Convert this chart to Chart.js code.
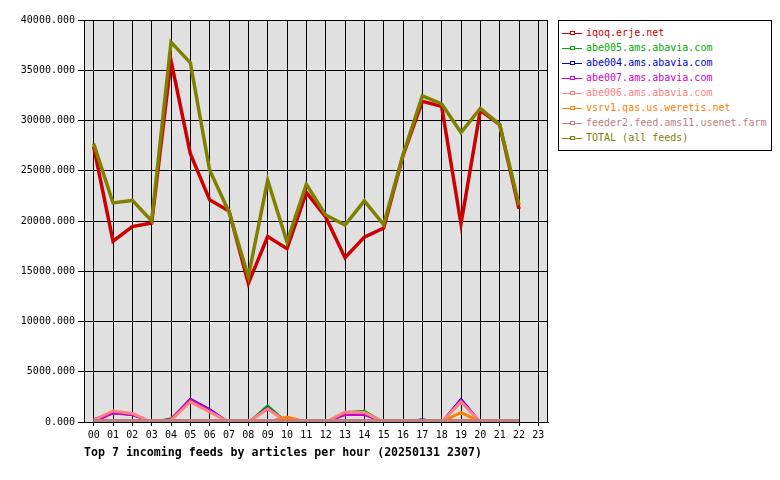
<!DOCTYPE html>
<html>
<head>
<meta charset="utf-8">
<script src="https://cdn.jsdelivr.net/npm/chart.js@4"></script>
<style>
  body { margin: 0; background: #fff; }
  #wrap { position: relative; width: 780px; height: 480px; }
  #legend {
    position: absolute; left: 558px; top: 20px; width: 212px; height: 129px;
    border: 1px solid #000; background: #fff;
    font: 10px "DejaVu Sans Mono", monospace;
  }
  #legend div { position: absolute; left: 3px; height: 12px; line-height: 12px; white-space: nowrap; }
  #legend .mk { display: inline-block; position: relative; width: 20px; height: 12px; vertical-align: top; margin-right: 4px; }
  #legend .mk i { position: absolute; left: 0; top: 6px; width: 20px; height: 1px; }
  #legend .mk b { position: absolute; left: 8px; top: 4px; width: 3px; height: 2px; border: 1px solid; background: #fff; }
  #title {
    position: absolute; left: 84px; top: 445px;
    font: bold 11.6px "DejaVu Sans Mono", monospace; color: #000; white-space: nowrap;
  }
</style>
</head>
<body>
<div id="wrap">
  <canvas id="feedChart" width="780" height="480"></canvas>
  <div id="legend"></div>
  <div id="title">Top 7 incoming feeds by articles per hour (20250131 2307)</div>
</div>
<script>
// ===== data =====
const hours = ["00","01","02","03","04","05","06","07","08","09","10","11",
               "12","13","14","15","16","17","18","19","20","21","22","23"];
const yTicks = [0, 5000, 10000, 15000, 20000, 25000, 30000, 35000, 40000];

const feedNames = ["iqoq.erje.net", "abe005.ams.abavia.com", "abe004.ams.abavia.com",
  "abe007.ams.abavia.com", "abe006.ams.abavia.com", "vsrv1.qas.us.weretis.net",
  "feeder2.feed.ams11.usenet.farm", "TOTAL (all feeds)"];
const feedColors = ["#cc0000", "#00aa00", "#0000cc", "#cc00cc", "#ff8080", "#ff8000", "#c08080", "#808000"];
const feedWidths = [3.5, 1.5, 1.5, 2, 3, 3, 3, 3.5];

const iqoq    = [27400, 18000, 19450, 19800, 35950, 26700, 22100, 21000, 13800, 18450, 17250, 22850,
                 20400, 16350, 18400, 19300, 26500, 31900, 31400, 19700, 31000, 29600, 21200, null];
const abe005  = [0, 850, 700, 0, 400, 2200, 1000, 0, 0, 1700, 0, 0,
                 0, 1000, 1150, 0, 0, 0, 0, 2000, 0, 0, 0, null];
const abe004  = [300, 900, 700, 0, 300, 2350, 1300, 0, 0, 1500, 0, 0,
                 0, 700, 800, 0, 0, 300, 0, 2350, 0, 0, 0, null];
const abe007  = [0, 850, 700, 0, 300, 2300, 1200, 0, 0, 1400, 0, 0,
                 0, 700, 700, 0, 0, 0, 0, 2200, 0, 0, 0, null];
const abe006  = [200, 1100, 850, 0, 200, 2000, 1000, 0, 0, 1300, 0, 0,
                 0, 1000, 950, 0, 0, 0, 0, 2000, 0, 0, 0, null];
const vsrv1   = [0, 0, 0, 0, 0, 0, 0, 0, 0, 0, 500, 0,
                 0, 0, 150, 150, 0, 0, 0, 950, 0, 0, 0, null];
const feeder2 = [150, 150, 150, 150, 150, 150, 150, 150, 150, 150, 150, 150,
                 150, 150, 150, 150, 150, 150, 150, 150, 150, 150, 150, null];
const total   = [27700, 21800, 22050, 20000, 37800, 35750, 25050, 20900, 14450, 24050, 17900, 23650,
                 20600, 19600, 22000, 19650, 26600, 32450, 31650, 28800, 31200, 29600, 21600, null];

const seriesData = [iqoq, abe005, abe004, abe007, abe006, vsrv1, feeder2, total];

// ===== legend (html) =====
const legendEl = document.getElementById("legend");
feedNames.forEach((name, i) => {
    const row = document.createElement("div");
    row.style.top = (6 + i * 15) + "px";
    row.style.color = feedColors[i];
    row.innerHTML = '<span class="mk"><i style="background:' + feedColors[i] + '"></i><b style="border-color:' +
        feedColors[i] + '"></b></span>' + name;
    legendEl.appendChild(row);
});

// plot background + frame
const plotFrame = {
    id: "plotFrame",
    beforeDraw(chart) {
        const a = chart.chartArea, c = chart.ctx;
        c.save();
        c.fillStyle = "#fff";
        c.fillRect(0, 0, chart.width, chart.height);
        c.fillStyle = "#e0e0e0";
        c.fillRect(a.left, a.top, a.right - a.left, a.bottom - a.top);
        c.restore();
    },
    afterDraw(chart) {
        const a = chart.chartArea, c = chart.ctx;
        c.save();
        c.strokeStyle = "#000";
        c.lineWidth = 1;
        c.strokeRect(a.left + 0.5, a.top + 0.5, a.right - a.left - 1, a.bottom - a.top);
        c.restore();
    }
};

const monoFont = { family: "'DejaVu Sans Mono', monospace", size: 10 };

new Chart(document.getElementById("feedChart").getContext("2d"), {
    type: "line",
    data: {
        labels: hours,
        datasets: seriesData.map((d, i) => ({
            label: feedNames[i],
            data: d,
            borderColor: feedColors[i],
            backgroundColor: feedColors[i],
            borderWidth: feedWidths[i],
            pointRadius: 0,
            tension: 0,
            fill: false,
            order: seriesData.length - i
        }))
    },
    options: {
        responsive: false,
        animation: false,
        layout: { padding: { left: 0, right: 232, top: 20, bottom: 0 } },
        plugins: { legend: { display: false }, title: { display: false }, tooltip: { enabled: false } },
        scales: {
            x: {
                offset: true,
                grid: { color: "#000", lineWidth: 1, offset: false, tickLength: 4, drawTicks: true },
                border: { color: "#000" },
                ticks: { color: "#000", font: monoFont, maxRotation: 0, autoSkip: false, padding: 3 },
                afterFit(s) { s.height = 58; }
            },
            y: {
                min: 0,
                max: 40000,
                afterBuildTicks(s) { s.ticks = yTicks.map(v => ({ value: v })); },
                grid: { color: "#000", lineWidth: 1, tickLength: 6 },
                border: { color: "#000" },
                ticks: { color: "#000", font: monoFont, padding: 3, callback: v => Number(v).toFixed(3) },
                afterFit(s) { s.width = 84; }
            }
        }
    },
    plugins: [plotFrame]
});
</script>
</body>
</html>
